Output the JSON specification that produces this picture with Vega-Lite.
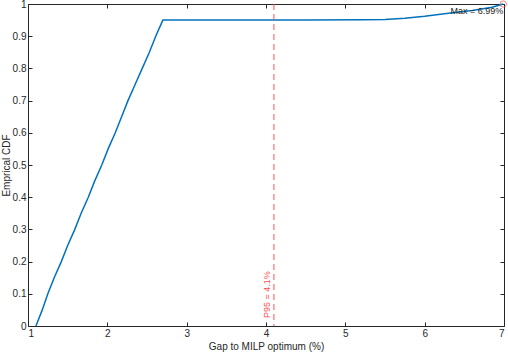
{
  "$schema": "https://vega.github.io/schema/vega-lite/v6.json",
  "width": 476,
  "height": 322,
  "autosize": {"type": "none"},
  "padding": {"left": 28, "top": 4, "right": 4, "bottom": 26},
  "background": "white",
  "config": {
    "view": {"stroke": null},
    "axis": {
      "domainColor": "#262626", "tickColor": "#262626", "labelColor": "#262626", "titleColor": "#262626",
      "labelFont": "Liberation Sans", "titleFont": "Liberation Sans", "labelFontSize": 10, "titleFontSize": 10,
      "titleFontWeight": "normal", "grid": false, "tickSize": -4, "domainWidth": 1, "tickWidth": 1
    }
  },
  "datasets": {
    "cdf": [
      {"gap": 1.10, "p": 0.000}, {"gap": 1.18, "p": 0.050}, {"gap": 1.25, "p": 0.100},
      {"gap": 1.33, "p": 0.150}, {"gap": 1.42, "p": 0.200}, {"gap": 1.50, "p": 0.250},
      {"gap": 1.59, "p": 0.300}, {"gap": 1.67, "p": 0.350}, {"gap": 1.76, "p": 0.400},
      {"gap": 1.84, "p": 0.450}, {"gap": 1.93, "p": 0.500}, {"gap": 2.01, "p": 0.550},
      {"gap": 2.10, "p": 0.600}, {"gap": 2.18, "p": 0.650}, {"gap": 2.26, "p": 0.700},
      {"gap": 2.35, "p": 0.750}, {"gap": 2.44, "p": 0.800}, {"gap": 2.53, "p": 0.850},
      {"gap": 2.61, "p": 0.900}, {"gap": 2.70, "p": 0.950}, {"gap": 3.50, "p": 0.950},
      {"gap": 4.50, "p": 0.950}, {"gap": 5.20, "p": 0.951}, {"gap": 5.50, "p": 0.952},
      {"gap": 5.75, "p": 0.956}, {"gap": 6.00, "p": 0.962}, {"gap": 6.30, "p": 0.971},
      {"gap": 6.60, "p": 0.980}, {"gap": 6.85, "p": 0.990}, {"gap": 6.99, "p": 1.000}
    ],
    "p95": [{"gap": 4.1, "label": "P95 = 4.1%", "p": 0.025}],
    "maxp": [{"gap": 6.99, "p": 1.0, "label": "Max = 6.99%", "py": 0.977}]
  },
  "layer": [
    {
      "data": {"name": "cdf"},
      "mark": {"type": "line", "color": "#0072BD", "strokeWidth": 1.5},
      "encoding": {
        "x": {"field": "gap", "type": "quantitative", "scale": {"domain": [1, 7], "nice": false, "zero": false},
              "axis": {"orient": "bottom", "values": [1,2,3,4,5,6,7], "title": "Gap to MILP optimum (%)", "labelPadding": 6, "titlePadding": 3}},
        "y": {"field": "p", "type": "quantitative", "scale": {"domain": [0, 1], "nice": false},
              "axis": {"orient": "left", "values": [0,0.1,0.2,0.3,0.4,0.5,0.6,0.7,0.8,0.9,1], "format": "~g", "title": "Emprical CDF", "labelPadding": 6, "titlePadding": 1}}
      }
    },
    {
      "data": {"name": "p95"},
      "mark": {"type": "rule", "color": "#FF5050", "strokeDash": [6, 4], "strokeWidth": 1},
      "encoding": {
        "x": {"field": "gap", "type": "quantitative", "axis": null}
      }
    },
    {
      "data": {"name": "p95"},
      "mark": {"type": "text", "color": "#FF5050", "angle": 270, "align": "left", "baseline": "bottom", "dx": 0, "dy": -2, "font": "Liberation Sans", "fontSize": 9},
      "encoding": {
        "x": {"field": "gap", "type": "quantitative", "axis": null},
        "y": {"field": "p", "type": "quantitative", "axis": null},
        "text": {"field": "label"}
      }
    },
    {
      "data": {"name": "maxp"},
      "mark": {"type": "point", "shape": "circle", "filled": false, "color": "#FF5050", "size": 40, "strokeWidth": 1},
      "encoding": {
        "x": {"field": "gap", "type": "quantitative", "axis": null},
        "y": {"field": "p", "type": "quantitative", "axis": null}
      }
    },
    {
      "data": {"name": "maxp"},
      "mark": {"type": "text", "color": "#262626", "align": "right", "baseline": "middle", "dx": 0, "font": "Liberation Sans", "fontSize": 9},
      "encoding": {
        "x": {"field": "gap", "type": "quantitative", "axis": null},
        "y": {"field": "py", "type": "quantitative", "axis": null},
        "text": {"field": "label"}
      }
    },
    {
      "data": {"name": "maxp"},
      "mark": {"type": "point", "opacity": 0},
      "encoding": {
        "x": {"field": "gap", "type": "quantitative",
              "axis": {"orient": "top", "values": [1,2,3,4,5,6,7], "labels": false, "title": null}},
        "y": {"field": "p", "type": "quantitative",
              "axis": {"orient": "right", "values": [0,0.1,0.2,0.3,0.4,0.5,0.6,0.7,0.8,0.9,1], "labels": false, "title": null}}
      }
    }
  ],
  "resolve": {"axis": {"x": "independent", "y": "independent"}}
}
